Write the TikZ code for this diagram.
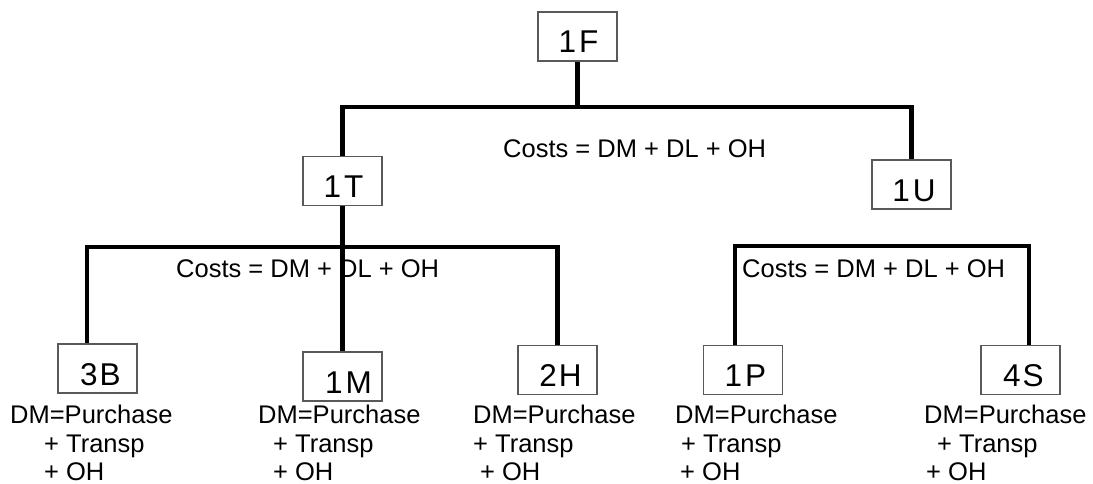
\documentclass[tikz,border=0pt]{standalone}
\usepackage{fontspec}
\setmainfont{Liberation Sans}
\begin{document}
\begin{tikzpicture}[x=1pt,y=-1pt,
  box/.style={draw=black!65,line width=1.2pt,inner sep=0pt,minimum width=79pt,
    minimum height=49pt,text width=79pt,align=center,text height=41pt,text depth=8pt,
    font=\fontsize{31.5}{36}\selectfont},
  desc/.style={anchor=base west,inner sep=0pt,font=\fontsize{25.5}{30}\selectfont},
  bus/.style={line width=4.2pt,line join=miter}]
\fill[white] (0,0) rectangle (1093,484);
\useasboundingbox (0,0) rectangle (1093,484);
% boxes
\node[box] (b1F) at (577.5,36.5) {\hspace*{2pt}1\kern3pt F};
\node[box] (b1T) at (342.5,181) {\hspace*{2pt}1\kern3pt T};
\node[box] (b1U) at (911.5,184.5) {\hspace*{5pt}1\kern3pt U};
\node[box] (b3B) at (97.5,368.5) {\hspace*{6pt}3\kern2pt B};
\node[box] (b1M) at (342.5,376.5) {\hspace*{12pt}1\kern3pt M};
\node[box] (b2H) at (557.5,370) {\hspace*{6pt}2\kern2pt H};
\node[box] (b1P) at (743,370) {\hspace*{5pt}1\kern3pt P};
\node[box] (b4S) at (1020.5,370) {\hspace*{6pt}4\kern2pt S};
% bus coordinates
\coordinate (topL) at (342.5,107);
\coordinate (topR) at (911.5,107);
\coordinate (lL) at (87,247);
\coordinate (rL) at (735,246);
\coordinate (rR) at (1029,246);
% connectors
\draw[bus] (b1F.south) -- (b1F.south |- topL);
\draw[bus] (b1T.north) -- (topL) -- (topR) -- (b1U.north);
\draw[bus] (b1T.south) -- (b1M.north);
\draw[bus] (b3B.north -| lL) -- (lL) -- (b2H.north |- lL) -- (b2H.north);
\draw[bus] (b1P.north -| rL) -- (rL) -- (rR) -- (b4S.north -| rR);
% cost labels
\node[desc] (cTop) at (503,158) {Costs = DM + DL + OH};
\node[desc] (cLeft) at (176,277) {Costs = DM + DL + OH};
\node[desc] (cRight) at (742,277) {Costs = DM + DL + OH};
% descriptions
\node[desc] (d3Ba) at (10,423) {DM=Purchase};
\node[desc] (d3Bb) at (44,452) {+ Transp};
\node[desc] (d3Bc) at (44,480) {+ OH};
\node[desc] (d1Ma) at (258,423) {DM=Purchase};
\node[desc] (d1Mb) at (273,452) {+ Transp};
\node[desc] (d1Mc) at (273,480) {+ OH};
\node[desc] (d2Ha) at (473,423) {DM=Purchase};
\node[desc] (d2Hb) at (473,452) {+ Transp};
\node[desc] (d2Hc) at (480,480) {+ OH};
\node[desc] (d1Pa) at (675,423) {DM=Purchase};
\node[desc] (d1Pb) at (681,452) {+ Transp};
\node[desc] (d1Pc) at (680,480) {+ OH};
\node[desc] (d4Sa) at (924,423) {DM=Purchase};
\node[desc] (d4Sb) at (937,452) {+ Transp};
\node[desc] (d4Sc) at (926,480) {+ OH};
\end{tikzpicture}
\end{document}
